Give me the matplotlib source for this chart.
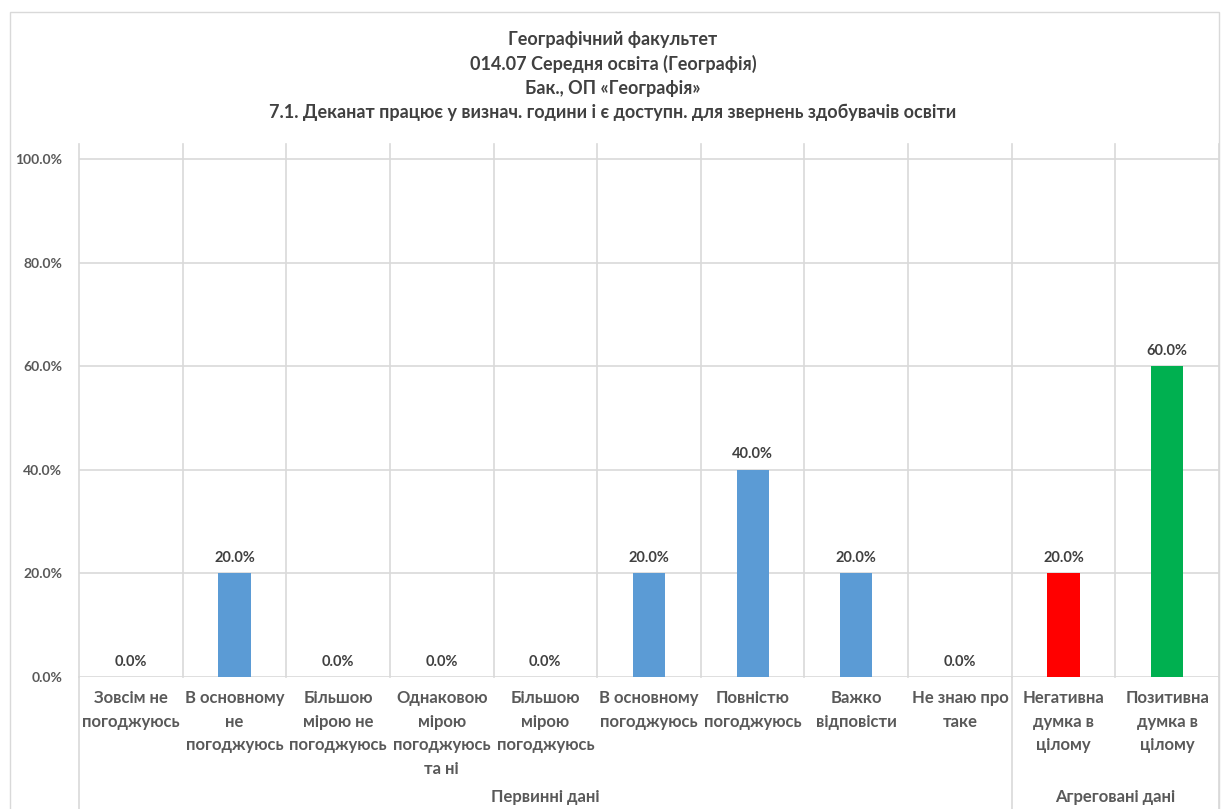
import numpy as np
import matplotlib.pyplot as plt
from matplotlib.patches import Rectangle

plt.rcParams['font.family'] = ['Lato', 'DejaVu Sans']

# chart data
title_lines = ['Географічний факультет',
               '014.07 Середня освіта (Географія)',
               'Бак., ОП «Географія»',
               '7.1. Деканат працює у визнач. години і є доступн. для звернень здобувачів освіти']
categories = ['Зовсім не\nпогоджуюсь', 'В основному\nне\nпогоджуюсь',
              'Більшою\nмірою не\nпогоджуюсь', 'Однаковою\nмірою\nпогоджуюсь\nта ні',
              'Більшою\nмірою\nпогоджуюсь', 'В основному\nпогоджуюсь',
              'Повністю\nпогоджуюсь', 'Важко\nвідповісти', 'Не знаю про\nтаке',
              'Негативна\nдумка в\nцілому', 'Позитивна\nдумка в\nцілому']
values = [0.0, 20.0, 0.0, 0.0, 0.0, 20.0, 40.0, 20.0, 0.0, 20.0, 60.0]
colors = ['#5B9BD5'] * 9 + ['#FF0000', '#00B050']
groups = ['Первинні дані', 'Агреговані дані']
group_sizes = [9, 2]

W, H = 1226, 809
fig = plt.figure(figsize=(W / 100, H / 100), dpi=100)
grid_c = '#D9D9D9'
text_c = '#404040'

# outer chart border
fig.patches.append(Rectangle((10 / W, -0.01), (1219 - 10) / W, 1.01 - 12 / H,
                             transform=fig.transFigure, fill=False,
                             edgecolor=grid_c, linewidth=1.0))

ax = fig.add_axes([79 / W, (H - 677) / H, (1219 - 79) / W, (677 - 144) / H])
n = len(categories)
x = np.arange(n)
vals = np.array(values) / 100
ytop = 533 / 518

ax.bar(x, vals, width=0.31, color=colors, zorder=3)
ax.set_xlim(-0.5, n - 0.5)
ax.set_ylim(0, ytop)
ax.set_yticks(np.arange(0, 1.01, 0.2))
ax.set_yticklabels(['%.1f%%' % (v * 100) for v in np.arange(0, 1.01, 0.2)],
                   fontsize=10, fontweight='bold', color='#595959')
ax.tick_params(axis='y', length=0, pad=12)
ax.set_xticks([])
for s in ax.spines.values():
    s.set_visible(False)

# horizontal gridlines
for v in np.arange(0, 1.01, 0.2):
    ax.axhline(v, color=grid_c, linewidth=1.2, zorder=1, xmin=0, xmax=1)

# vertical gridlines between categories
for b in np.arange(-0.5, n, 1.0):
    ax.plot([b, b], [0, ytop], color=grid_c, linewidth=1.2, zorder=1, clip_on=False)

# group separators extending through the label area
trans = ax.get_xaxis_transform()
bounds = np.concatenate([[0], np.cumsum(group_sizes)]) - 0.5
for b in bounds:
    ax.plot([b, b], [0, -0.3], color=grid_c, linewidth=1.2, transform=trans, clip_on=False)

# data labels
for xi, v in zip(x, vals):
    ax.annotate('%.1f%%' % (v * 100), (xi, v), xytext=(0, 6), textcoords='offset points',
                ha='center', va='bottom', fontsize=10.5, fontweight='bold', color=text_c)

# category labels
for xi, lab in zip(x, categories):
    ax.text(xi, -0.025, lab, transform=trans, ha='center', va='top', fontsize=12,
            fontweight='bold', color='#595959', linespacing=1.58)

# group labels
for i, g in enumerate(groups):
    mid = (bounds[i] + bounds[i + 1]) / 2
    ax.text(mid, -0.226, g, transform=trans, ha='center', va='center', fontsize=12,
            fontweight='bold', color='#595959')

# title
for i, t in enumerate(title_lines):
    fig.text(0.5, 1 - (39 + i * 24.6) / H, t, ha='center', va='center', fontsize=13,
             fontweight='bold', color=text_c)

plt.savefig('out.png', dpi=100)
